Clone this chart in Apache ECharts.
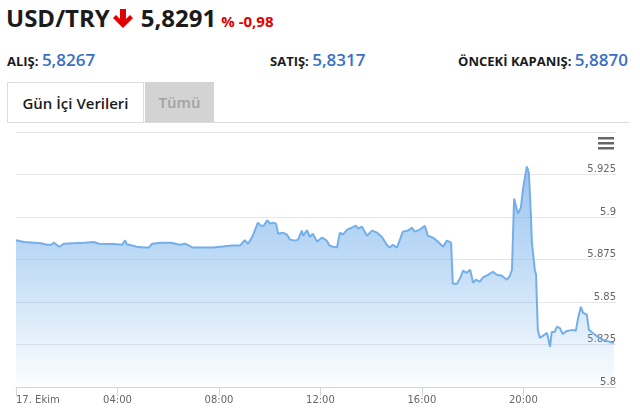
<!DOCTYPE html>
<html>
<head>
<meta charset="utf-8">
<script src="https://cdn.jsdelivr.net/npm/echarts@6/dist/echarts.min.js"></script>
<style>
  body { margin: 0; width: 640px; height: 420px; overflow: hidden; background: #fff; position: relative; font-family: "Open Sans", sans-serif; }
  .abs { position: absolute; white-space: nowrap; }
  .title { left: 6px; top: 0px; font-size: 24px; font-weight: 700; color: #1b1b1b; line-height: 36px; }
  .title svg { vertical-align: -2px; margin: 0 8px 0 3px; }
  .chg { font-size: 15px; color: #e00000; margin-left: 5px; }
  .info { top: 47px; font-size: 13px; font-weight: 700; color: #1b1b1b; line-height: 26px; }
  .info b { font-size: 17px; font-weight: 600; color: #3b6fc3; }
  .tabline { left: 8px; top: 122px; width: 621px; height: 1px; background: #dcdcdc; }
  .tab { top: 82px; height: 40px; line-height: 40px; font-size: 15px; font-weight: 600; text-align: center; }
  .tab1 { left: 7px; width: 135px; border: 1px solid #dcdcdc; border-bottom: none; color: #1b1b1b; background: #fff; }
  .tab2 { left: 145px; width: 69px; background: #d3d3d3; color: #a2a2a2; height: 41px; }
  #chart { position: absolute; left: 0; top: 124px; width: 640px; height: 296px; }
</style>
</head>
<body>
<div class="abs title">USD/TRY<svg width="20" height="20" viewBox="0 0 20 20"><path d="M7 0 H13 V10 L17 6 L20 9 L10 19 L0 9 L3 6 L7 10 Z" fill="#e00000"/></svg>5,8291<span class="chg">% -0,98</span></div>
<div class="abs info" style="left:7px">ALIŞ: <b>5,8267</b></div>
<div class="abs info" style="left:270px">SATIŞ: <b>5,8317</b></div>
<div class="abs info" style="right:12px">ÖNCEKİ KAPANIŞ: <b>5,8870</b></div>
<div class="abs tab tab1">Gün İçi Verileri</div>
<div class="abs tab tab2">Tümü</div>
<div class="abs tabline"></div>
<div id="chart"></div>
<script>
// intraday quotes, 17 Oct
const times = [
  '00:00', '00:19', '00:43', '00:59', '01:13', '01:23', '01:30', '01:42', '01:54', '02:17',
  '02:41', '03:04', '03:16', '03:52', '04:11', '04:18', '04:22', '04:46', '05:03', '05:14',
  '05:22', '05:43', '06:06', '06:28', '06:40', '06:58', '07:22', '07:46', '08:09', '08:31',
  '08:50', '09:01', '09:09', '09:20', '09:32', '09:39', '09:46', '09:54', '10:01', '10:08',
  '10:15', '10:20', '10:31', '10:41', '10:48', '11:00', '11:07', '11:16', '11:19', '11:28',
  '11:35', '11:42', '11:52', '12:04', '12:15', '12:22', '12:30', '12:39', '12:46', '12:53',
  '13:03', '13:14', '13:24', '13:29', '13:38', '13:50', '14:02', '14:14', '14:25', '14:37',
  '14:44', '14:51', '15:01', '15:15', '15:27', '15:36', '15:43', '15:55', '16:07', '16:14',
  '16:26', '16:38', '16:50', '16:59', '17:09', '17:13', '17:23', '17:32', '17:37', '17:46',
  '17:54', '18:01', '18:08', '18:17', '18:24', '18:36', '18:48', '18:57', '19:09', '19:21',
  '19:28', '19:33', '19:38', '19:47', '19:54', '19:59', '20:08', '20:13', '20:18', '20:20',
  '20:27', '20:30', '20:34', '20:39', '20:46', '20:56', '21:03', '21:07', '21:14', '21:19',
  '21:26', '21:33', '21:43', '21:57', '22:04', '22:09', '22:16', '22:21', '22:30', '22:35',
  '22:44', '22:56', '23:08', '23:25', '23:34'
]
const prices = [
  5.8863, 5.8853, 5.8849, 5.8846, 5.8837, 5.8837, 5.8849, 5.8825, 5.8843, 5.8846,
  5.8849, 5.8853, 5.8843, 5.8841, 5.8837, 5.8863, 5.8840, 5.8825, 5.8820, 5.8820,
  5.8843, 5.8849, 5.8849, 5.8837, 5.8843, 5.8820, 5.8821, 5.8821, 5.8827, 5.8833,
  5.8833, 5.8863, 5.8843, 5.8890, 5.8967, 5.8949, 5.8949, 5.8981, 5.8961, 5.8967,
  5.8961, 5.8902, 5.8908, 5.8896, 5.8867, 5.8861, 5.8867, 5.8920, 5.8890, 5.8922,
  5.8884, 5.8902, 5.8855, 5.8879, 5.8861, 5.8831, 5.8825, 5.8820, 5.8908, 5.8896,
  5.8926, 5.8937, 5.8949, 5.8932, 5.8943, 5.8890, 5.8920, 5.8908, 5.8884, 5.8837,
  5.8820, 5.8837, 5.8820, 5.8914, 5.8920, 5.8937, 5.8914, 5.8926, 5.8949, 5.8890,
  5.8879, 5.8855, 5.8825, 5.8861, 5.8849, 5.8607, 5.8607, 5.8649, 5.8684, 5.8672,
  5.8690, 5.8613, 5.8631, 5.8619, 5.8643, 5.8660, 5.8678, 5.8660, 5.8654, 5.8631,
  5.8654, 5.8690, 5.9108, 5.9020, 5.9055, 5.9162, 5.9297, 5.9262, 5.8996, 5.8849,
  5.8690, 5.8660, 5.8336, 5.8289, 5.8301, 5.8318, 5.8236, 5.8324, 5.8324, 5.8354,
  5.8348, 5.8312, 5.8330, 5.8336, 5.8330, 5.8401, 5.8472, 5.8436, 5.8425, 5.8336,
  5.8318, 5.8295, 5.8277, 5.8265, 5.8259
]
const hourTicks = [0, 4, 8, 12, 16, 20]
const dayLabel = '17. Ekim'

function toHours(t) {
  const [h, m] = t.split(':')
  return Number(h) + Number(m) / 60
}

const chart = echarts.init(document.getElementById('chart'))
chart.setOption({
  animation: false,
  grid: { left: 16, right: 24, top: 8, bottom: 33 },
  xAxis: {
    type: 'value',
    min: 0,
    max: 23.65,
    splitLine: { show: false },
    axisLine: { lineStyle: { color: '#ccd6eb' } },
    axisTick: { length: 9, lineStyle: { color: '#ccd6eb' }, customValues: hourTicks },
    axisLabel: {
      customValues: hourTicks,
      color: '#666',
      fontSize: 10,
      fontFamily: 'DejaVu Sans',
      margin: 8,
      alignMinLabel: 'left',
      formatter: v => v === 0 ? dayLabel : String(v).padStart(2, '0') + ':00'
    }
  },
  yAxis: {
    type: 'value',
    position: 'right',
    min: 5.8,
    max: 5.95,
    interval: 0.025,
    axisLine: { show: false },
    axisTick: { show: false },
    splitLine: { lineStyle: { color: '#e6e6e6' } },
    axisLabel: {
      inside: true,
      margin: 0,
      verticalAlign: 'bottom',
      showMaxLabel: false,
      color: '#666',
      fontSize: 10,
      fontFamily: 'DejaVu Sans',
      formatter: v => String(+v.toFixed(3))
    }
  },
  graphic: [
    { type: 'rect', right: 26, top: 13, shape: { width: 16, height: 2.5 }, style: { fill: '#666' } },
    { type: 'rect', right: 26, top: 18, shape: { width: 16, height: 2.5 }, style: { fill: '#666' } },
    { type: 'rect', right: 26, top: 23, shape: { width: 16, height: 2.5 }, style: { fill: '#666' } }
  ],
  series: [
    {
      type: 'line',
      data: times.map((t, i) => [toHours(t), prices[i]]),
      showSymbol: false,
      lineStyle: { color: '#74afea', width: 2 },
      itemStyle: { color: '#74afea' },
      areaStyle: {
        origin: 'start',
        color: new echarts.graphic.LinearGradient(0, 0, 0, 1, [
          { offset: 0, color: 'rgba(116,172,234,1)' },
          { offset: 0.4, color: 'rgba(124,181,236,0.72)' },
          { offset: 1, color: 'rgba(124,181,236,0.03)' }
        ])
      }
    }
  ]
})
</script>
</body>
</html>
